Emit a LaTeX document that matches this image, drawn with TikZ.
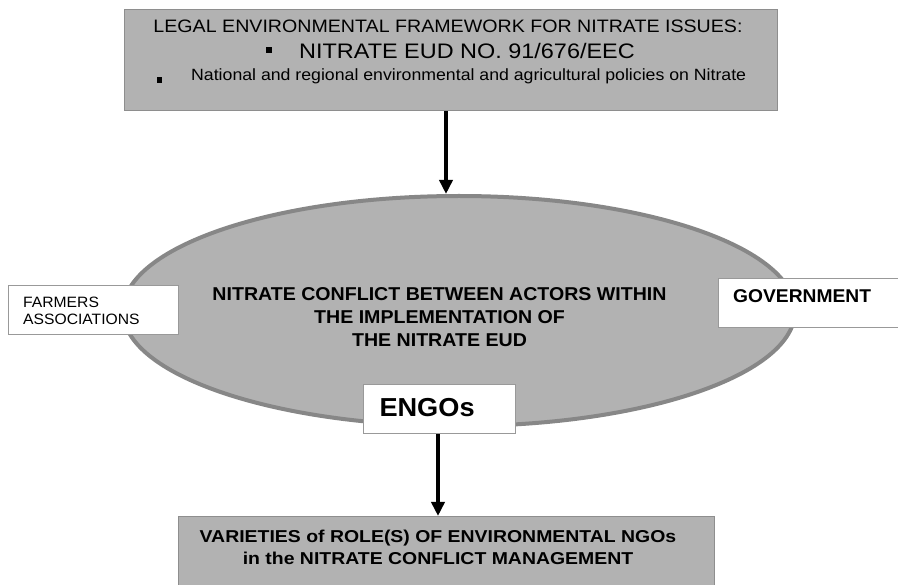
\documentclass[tikz,border=0pt]{standalone}
\usepackage{fontspec}
\setmainfont{Liberation Sans}
\usetikzlibrary{shapes.geometric,arrows.meta}
\definecolor{boxgray}{HTML}{B2B2B2}
\definecolor{boxedge}{HTML}{8E8E8E}
\definecolor{ellgray}{HTML}{B2B2B2}
\definecolor{elledge}{HTML}{878787}
\definecolor{whiteedge}{HTML}{999999}
\newcommand{\fs}[1]{\fontsize{#1}{#1}\selectfont}
\newcommand{\sx}[2]{\scalebox{#1}[1]{#2}}
\begin{document}
\begin{tikzpicture}[x=1pt,y=-1pt,
  graybox/.style={draw=boxedge,fill=boxgray,line width=1.2pt,inner sep=0pt,anchor=north west},
  whitebox/.style={draw=whiteedge,fill=white,line width=1.2pt,inner sep=0pt,anchor=north west},
  txt/.style={inner sep=0pt,text=black},
  arr/.style={line width=4pt,-{Triangle[length=14pt,width=13pt]}}]
\clip (0,0) rectangle (898,585);
\fill[white] (0,0) rectangle (898,585);
% top box
\node[graybox,minimum width=653pt,minimum height=101pt] (top) at (124,9) {};
\node[txt,anchor=base] (t1) at (448,32.7) {\fs{18}\sx{1.09}{LEGAL ENVIRONMENTAL FRAMEWORK FOR NITRATE ISSUES:}};
\node[txt,anchor=base west] (t2) at (266,58.3) {\fs{21}\makebox[33pt][l]{\raisebox{5pt}{\rule{6pt}{6pt}}}\sx{1.116}{NITRATE EUD NO. 91/676/EEC}};
\node[txt,anchor=base west] (t3) at (157,81) {\fs{16.3}\makebox[34pt][l]{\raisebox{-2pt}{\rule{5pt}{5.7pt}}}\sx{1.086}{National and regional environmental and agricultural policies on Nitrate}};
% ellipse
\node[ellipse,draw=elledge,fill=ellgray,line width=4pt,minimum width=672pt,minimum height=230pt,inner sep=0pt] (ell) at (459,311) {};
\node[txt,anchor=base] (e1) at (439.5,301) {\fs{18.6}\bfseries\sx{1.053}{NITRATE CONFLICT BETWEEN ACTORS WITHIN}};
\node[txt,anchor=base] (e2) at (439.5,324) {\fs{18.6}\bfseries\sx{1.053}{THE IMPLEMENTATION OF}};
\node[txt,anchor=base] (e3) at (439.5,347) {\fs{18.6}\bfseries\sx{1.053}{THE NITRATE EUD}};
% side boxes
\node[whitebox,minimum width=170pt,minimum height=49pt] (farm) at (8,285) {};
\node[txt,anchor=base west] (f1) at (23,307.3) {\fs{15}\sx{1.045}{FARMERS}};
\node[txt,anchor=base west] (f2) at (23,325) {\fs{15}\sx{1.045}{ASSOCIATIONS}};
\node[whitebox,minimum width=190pt,minimum height=49pt] (gov) at (718,278) {};
\node[txt,anchor=base west] (g1) at (733,303) {\fs{18.5}\bfseries\sx{1.04}{GOVERNMENT}};
\node[whitebox,minimum width=152pt,minimum height=49pt] (engo) at (363,384) {};
\node[txt,anchor=base west] (n1) at (379.3,416.7) {\fs{26}\bfseries\sx{1.045}{ENGOs}};
% bottom box
\node[graybox,minimum width=536pt,minimum height=90pt] (bot) at (178,516) {};
\node[txt,anchor=base] (b1) at (438,542.3) {\fs{17.2}\bfseries\sx{1.13}{VARIETIES of ROLE(S) OF ENVIRONMENTAL NGOs}};
\node[txt,anchor=base] (b2) at (438,564.3) {\fs{17.2}\bfseries\sx{1.13}{in the NITRATE CONFLICT MANAGEMENT}};
% arrows
\draw[arr] (446,0 |- top.south) -- (446,0 |- ell.north);
\draw[arr] (438,0 |- engo.south) -- (438,0 |- bot.north);
\end{tikzpicture}
\end{document}
